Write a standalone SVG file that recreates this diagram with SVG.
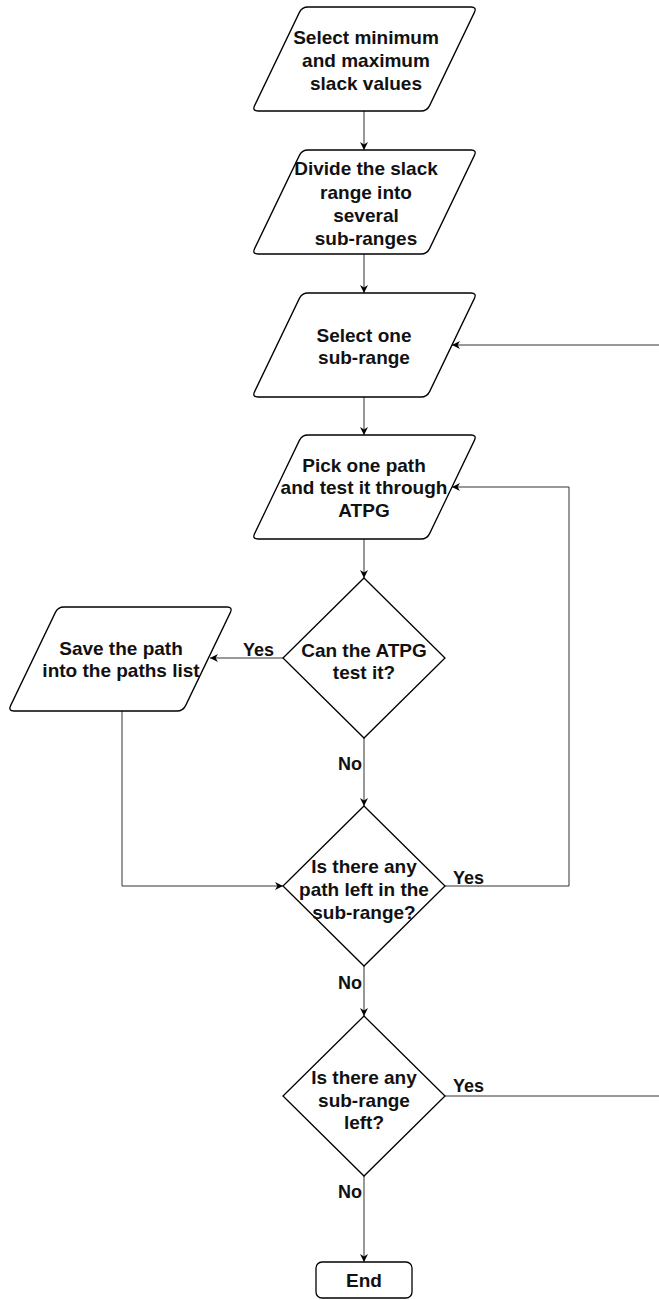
<svg xmlns="http://www.w3.org/2000/svg" xmlns:xlink="http://www.w3.org/1999/xlink" width="659" height="1300" viewBox="0 0 659 1300">
<style>
.shape{fill:#fff;stroke:#000;stroke-width:1.3}
.t{font-family:"Liberation Sans",Arial,Helvetica,sans-serif;font-weight:bold;font-size:19px;fill:#111;text-anchor:middle}
.lbl{font-family:"Liberation Sans",Arial,Helvetica,sans-serif;font-weight:bold;font-size:18px;fill:#111}
.c{fill:none;stroke:#333;stroke-width:1}
</style>
<defs>
<path id="para" d="M2.6,98.6 L47.4,5.4 Q50,0 56,0 L219,0 Q225,0 222.4,5.4 L177.6,98.6 Q175,104 169,104 L6,104 Q0,104 2.6,98.6 Z"/>
<path id="dia" d="M0,-80 L81,0 L0,80 L-81,0 Z"/>
<marker id="arr" viewBox="0 0 10 10" refX="10" refY="5" markerWidth="8" markerHeight="8" markerUnits="userSpaceOnUse" orient="auto">
<path d="M0,0 L10,5 L0,10 L3,5 Z" fill="#000"/>
</marker>
</defs>
<g id="connectors">
<line class="c" x1="364" y1="111" x2="364" y2="150" marker-end="url(#arr)"/>
<line class="c" x1="364" y1="254" x2="364" y2="293" marker-end="url(#arr)"/>
<line class="c" x1="364" y1="397" x2="364" y2="435" marker-end="url(#arr)"/>
<line class="c" x1="364" y1="539" x2="364" y2="578" marker-end="url(#arr)"/>
<line class="c" x1="364" y1="738" x2="364" y2="806" marker-end="url(#arr)"/>
<line class="c" x1="364" y1="966" x2="364" y2="1016" marker-end="url(#arr)"/>
<line class="c" x1="364" y1="1176" x2="364" y2="1262" marker-end="url(#arr)"/>
<line class="c" x1="283" y1="658" x2="210" y2="658" marker-end="url(#arr)"/>
<polyline class="c" points="122,711 122,886 283,886" marker-end="url(#arr)"/>
<polyline class="c" points="445,886 569,886 569,487 452,487" marker-end="url(#arr)"/>
<line class="c" x1="659" y1="345" x2="452" y2="345" marker-end="url(#arr)"/>
<line class="c" x1="445" y1="1096" x2="659" y2="1096"/>
<text class="lbl" x="243" y="656">Yes</text>
<text class="lbl" x="453" y="884">Yes</text>
<text class="lbl" x="453" y="1092">Yes</text>
<text class="lbl" x="362" y="770" text-anchor="end">No</text>
<text class="lbl" x="362" y="989" text-anchor="end">No</text>
<text class="lbl" x="362" y="1198" text-anchor="end">No</text>
</g>
<g id="node-select-minmax">
<use xlink:href="#para" href="#para" class="shape" transform="translate(252,7)"/>
<text class="t" x="366" y="44">Select minimum</text>
<text class="t" x="366" y="67">and maximum</text>
<text class="t" x="366" y="90">slack values</text>
</g>
<g id="node-divide">
<use xlink:href="#para" href="#para" class="shape" transform="translate(252,150)"/>
<text class="t" x="366" y="175">Divide the slack</text>
<text class="t" x="366" y="199">range into</text>
<text class="t" x="366" y="222">several</text>
<text class="t" x="366" y="245">sub-ranges</text>
</g>
<g id="node-select-one">
<use xlink:href="#para" href="#para" class="shape" transform="translate(252,293)"/>
<text class="t" x="364" y="342">Select one</text>
<text class="t" x="364" y="364">sub-range</text>
</g>
<g id="node-pick-path">
<use xlink:href="#para" href="#para" class="shape" transform="translate(252,435)"/>
<text class="t" x="364" y="472">Pick one path</text>
<text class="t" x="364" y="494">and test it through</text>
<text class="t" x="364" y="517">ATPG</text>
</g>
<g id="node-can-atpg">
<use xlink:href="#dia" href="#dia" class="shape" transform="translate(364,658)"/>
<text class="t" x="364" y="657">Can the ATPG</text>
<text class="t" x="364" y="679">test it?</text>
</g>
<g id="node-save-path">
<use xlink:href="#para" href="#para" class="shape" transform="translate(8,607)"/>
<text class="t" x="121" y="655">Save the path</text>
<text class="t" x="121" y="677">into the paths list</text>
</g>
<g id="node-path-left">
<use xlink:href="#dia" href="#dia" class="shape" transform="translate(364,886)"/>
<text class="t" x="364" y="873">Is there any</text>
<text class="t" x="364" y="896">path left in the</text>
<text class="t" x="364" y="919">sub-range?</text>
</g>
<g id="node-subrange-left">
<use xlink:href="#dia" href="#dia" class="shape" transform="translate(364,1096)"/>
<text class="t" x="364" y="1084">Is there any</text>
<text class="t" x="364" y="1107">sub-range</text>
<text class="t" x="364" y="1129">left?</text>
</g>
<g id="node-end">
<rect class="shape" x="316" y="1262" width="96" height="36" rx="6" ry="6"/>
<text class="t" x="364" y="1287">End</text>
</g>
</svg>
